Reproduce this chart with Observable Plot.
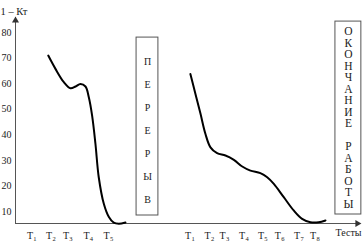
<!DOCTYPE html>
<html><head><meta charset="utf-8">
<script src="https://cdn.jsdelivr.net/npm/d3@7"></script>
<script src="https://cdn.jsdelivr.net/npm/@observablehq/plot@0.6"></script>
<style>body{margin:0;background:#fff} svg{display:block}</style>
</head><body><div id="chart"></div>
<script>
// ---- data ----
const yTicks = [10, 20, 30, 40, 50, 60, 70, 80];
const group1Pos = [0.97, 1.95, 2.82, 3.87, 4.9];
const group1Sub = ["1", "2", "3", "4", "5"];
const group2Pos = [9.08, 10.08, 10.85, 11.85, 12.82, 13.69, 14.67, 15.49];
const group2Sub = ["1", "2", "3", "4", "5", "6", "7", "8"];
const curve1X = [1.91, 2.28, 2.71, 3.05, 3.31, 3.56, 3.82, 3.99, 4.16, 4.33, 4.50, 4.76, 5.02, 5.27, 5.53, 5.87];
const curve1Y = [71.0, 65.8, 60.6, 58.2, 58.9, 59.9, 58.9, 54.7, 47.5, 36.5, 23.4, 13.0, 7.8, 5.6, 5.2, 5.7];
const curve2X = [9.2, 9.46, 9.72, 9.97, 10.23, 10.57, 11.0, 11.43, 11.86, 12.28, 12.79, 13.14, 13.48, 13.99, 14.5, 14.93, 15.36, 15.78, 16.13];
const curve2Y = [63.8, 56.0, 48.2, 40.4, 35.1, 32.8, 31.9, 30.2, 27.6, 26.0, 25.0, 23.4, 20.8, 15.6, 10.4, 7.1, 5.8, 5.8, 6.5];
const breakLabel = "ПЕРЕРЫВ";
const endLabel = "ОКОНЧАНИЕ РАБОТЫ";
const yTitle = "1 – Кт";
const xTitle = "Тесты";
const tickLetter = "T";

// ---- derived tables ----
const xMin = 0.23, xMax = 18.08, yMin = 5.3, yMax = 85.9, xAxisEnd = 17.92;
const curve1 = curve1X.map((x, i) => ({x, y: curve1Y[i]}));
const curve2 = curve2X.map((x, i) => ({x, y: curve2Y[i]}));
const xTicks = [
  ...group1Pos.map((x, i) => ({x, sub: group1Sub[i]})),
  ...group2Pos.map((x, i) => ({x, sub: group2Sub[i]}))
];
const breakBox = [{x1: 6.44, x2: 7.56, y1: 8.43, y2: 78.04, label: breakLabel}];
const endBox = [{x1: 16.64, x2: 17.97, y1: 8.82, y2: 84.3, label: endLabel}];
const vertical = d => d.label.split("").join("\n");
const font = "'Liberation Serif', 'DejaVu Serif', serif";
const ink = "#222";

const chart = Plot.plot({
  width: 363, height: 241,
  marginLeft: 15, marginRight: 0, marginTop: 17, marginBottom: 18,
  x: {domain: [xMin, xMax], axis: null},
  y: {domain: [yMin, yMax], axis: null},
  style: {fontFamily: font, background: "white", color: ink},
  marks: [
    Plot.ruleX([xMin], {stroke: "#555", strokeWidth: 1}),
    Plot.ruleY([yMin], {x1: xMin, x2: xAxisEnd, stroke: "#555", strokeWidth: 1}),
    Plot.dot([0], {x: xMin, y: yMax, symbol: "triangle", r: 2.6, fill: "#333", stroke: "none", dy: 3}),
    Plot.dot([0], {x: xAxisEnd, y: yMin, symbol: "triangle", r: 2.6, fill: "#333", stroke: "none", rotate: 90, dx: -3}),
    Plot.axisY({ticks: yTicks, tickSize: 0, tickPadding: 4, label: null, fontSize: 10, textAnchor: "end"}),
    Plot.text(xTicks, {x: "x", y: yMin, text: () => tickLetter, dy: 12, fontSize: 10, fill: ink}),
    Plot.text(xTicks, {x: "x", y: yMin, text: "sub", dx: 5, dy: 15, fontSize: 6.5, fill: ink}),
    Plot.text([xTitle], {frameAnchor: "bottom-right", textAnchor: "end", dx: -2, dy: 12, fontSize: 10, fill: ink}),
    Plot.text([yTitle], {frameAnchor: "top-left", textAnchor: "start", dx: -15, dy: -10, fontSize: 10.5, fill: ink}),
    Plot.rect(breakBox, {x1: "x1", x2: "x2", y1: "y1", y2: "y2", fill: "none", stroke: "#555", strokeWidth: 1}),
    Plot.rect(endBox, {x1: "x1", x2: "x2", y1: "y1", y2: "y2", fill: "none", stroke: "#555", strokeWidth: 1}),
    Plot.text(breakBox, {x: d => (d.x1 + d.x2) / 2, y: d => (d.y1 + d.y2) / 2, text: vertical, lineHeight: 2.3, fontSize: 10, fill: ink}),
    Plot.text(endBox, {x: d => (d.x1 + d.x2) / 2, y: d => (d.y1 + d.y2) / 2, text: vertical, lineHeight: 1.0, fontSize: 11.5, fill: ink}),
    Plot.line(curve1, {x: "x", y: "y", curve: "catmull-rom", stroke: "black", strokeWidth: 2}),
    Plot.line(curve2, {x: "x", y: "y", curve: "catmull-rom", stroke: "black", strokeWidth: 2})
  ]
});
document.getElementById("chart").appendChild(chart);
</script>
</body></html>
